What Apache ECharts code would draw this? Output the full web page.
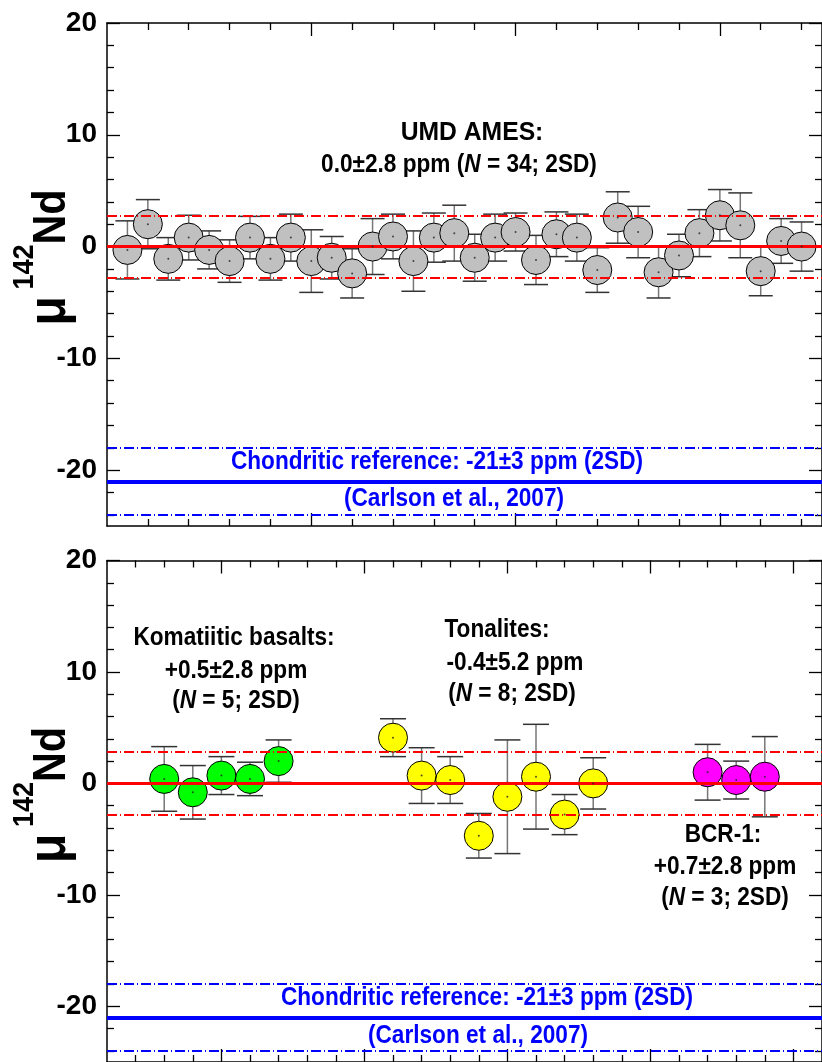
<!DOCTYPE html>
<html lang="en">
<head>
<meta charset="UTF-8">
<title>142Nd</title>
<script src="https://cdn.jsdelivr.net/npm/echarts@6/dist/echarts.min.js"></script>
<style>html,body{margin:0;padding:0;background:#fff;}</style>
</head>
<body>
<div id="main" style="width:822px;height:1062px;"></div>
<script type="text/javascript">
    // top panel: UMD AMES standard runs
    var amesNo  = [1,2,3,4,5,6,7,8,9,10,11,12,13,14,15,16,17,18,19,20,21,22,23,24,25,26,27,28,29,30,31,32,33,34];
    var amesVal = [-0.3,2.0,-1.1,0.8,-0.3,-1.3,0.8,-1.1,0.8,-1.3,-1.0,-2.4,0.0,0.9,-1.3,0.8,1.2,-1.0,0.8,1.3,-1.2,1.1,0.8,-2.1,2.6,1.3,-2.3,-0.8,1.2,2.8,1.9,-2.2,0.5,0.0];
    var amesErr = [2.6,2.2,1.9,2.0,1.7,1.9,1.9,1.9,2.1,2.8,1.9,2.2,2.5,2.0,2.7,2.2,2.5,2.1,2.1,1.7,2.2,2.0,2.1,2.0,2.3,2.3,2.3,1.9,2.1,2.3,2.9,2.2,2.0,2.2];

    // bottom panel: samples
    var komNo  = [3,4,5,6,7];
    var komVal = [0.4,-0.8,0.7,0.4,2.0];
    var komErr = [2.9,2.4,1.7,1.5,1.9];
    var tonNo  = [11,12,13,14,15,16,17,18];
    var tonVal = [4.1,0.7,0.3,-4.7,-1.2,0.6,-2.8,0.0];
    var tonErr = [1.7,2.5,2.1,2.0,5.1,4.7,1.8,2.3];
    var bcrNo  = [22,23,24];
    var bcrVal = [1.0,0.3,0.6];
    var bcrErr = [2.5,1.7,3.6];

    // reference lines (ppm)
    var terrLines = [0, 2.8, -2.8];
    var chonLines = [-21, -18, -24];

    // tick positions
    var yMajor = [-20, -10, 0, 10, 20];
    var yMinor = [-24,-22,-18,-16,-14,-12,-8,-6,-4,-2,2,4,6,8,12,14,16,18];
    var topXMajor = [10, 20, 30];
    var topXMinor = [2,4,6,8,12,14,16,18,22,24,26,28,32,34];
    var botXMajor = [5, 10, 15, 20, 25];
    var botXMinor = [2,3,4,6,7,8,9,11,12,13,14,16,17,18,19,21,22,23,24];

    var FONT = "'Liberation Sans', Arial, sans-serif";
    var NARROW = 0.87;

    var myChart = echarts.init(document.getElementById('main'));

    function zip(xs, ys, es) {
        var out = [];
        for (var i = 0; i < xs.length; i++) out.push([xs[i], ys[i], es[i]]);
        return out;
    }

    function axBase(grid, pos, min, max, ticks, len, line) {
        return {
            type: 'value', gridIndex: grid, position: pos, min: min, max: max,
            axisLine: {show: line, onZero: false, lineStyle: {color: '#000', width: 1.5}},
            axisTick: {show: true, inside: true, length: len, customValues: ticks, lineStyle: {color: '#000', width: 1.3}},
            axisLabel: {show: false},
            splitLine: {show: false}
        };
    }

    function xAxes(grid, min, max, major, minor) {
        return [
            axBase(grid, 'bottom', min, max, major, 13, true),
            axBase(grid, 'bottom', min, max, minor, 7, false),
            axBase(grid, 'top', min, max, major, 13, true),
            axBase(grid, 'top', min, max, minor, 7, false)
        ];
    }

    function yAxes(grid) {
        var left = axBase(grid, 'left', -25, 20, yMajor, 13, true);
        left.axisLabel = {
            show: true, customValues: yMajor, margin: 10, color: '#000',
            fontFamily: FONT, fontWeight: 'bold', fontSize: 28
        };
        return [
            left,
            axBase(grid, 'left', -25, 20, yMinor, 7, false),
            axBase(grid, 'right', -25, 20, yMajor, 13, true),
            axBase(grid, 'right', -25, 20, yMinor, 7, false)
        ];
    }

    function errorBar(half) {
        return function (params, api) {
            var x = api.value(0), y = api.value(1), e = api.value(2);
            var hi = api.coord([x, y + e]);
            var lo = api.coord([x, y - e]);
            return {
                type: 'group',
                children: [
                    {type: 'line', shape: {x1: hi[0], y1: hi[1], x2: lo[0], y2: lo[1]}, style: {stroke: '#777', lineWidth: 1.5}},
                    {type: 'line', shape: {x1: hi[0] - half, y1: hi[1], x2: hi[0] + half, y2: hi[1]}, style: {stroke: '#333', lineWidth: 1.5}},
                    {type: 'line', shape: {x1: lo[0] - half, y1: lo[1], x2: lo[0] + half, y2: lo[1]}, style: {stroke: '#333', lineWidth: 1.5}}
                ]
            };
        };
    }

    var DASH = [10, 3, 1, 3];
    function refLines() {
        return {
            silent: true, symbol: 'none', label: {show: false},
            data: [
                {yAxis: terrLines[0], lineStyle: {color: '#ff0000', width: 3, type: 'solid'}},
                {yAxis: terrLines[1], lineStyle: {color: '#ff0000', width: 2.2, type: DASH}},
                {yAxis: terrLines[2], lineStyle: {color: '#ff0000', width: 2.2, type: DASH}},
                {yAxis: chonLines[0], lineStyle: {color: '#0000ff', width: 4, type: 'solid'}},
                {yAxis: chonLines[1], lineStyle: {color: '#0000ff', width: 2, type: DASH}},
                {yAxis: chonLines[2], lineStyle: {color: '#0000ff', width: 2, type: DASH}}
            ]
        };
    }

    function pts(xi, yi, data, color) {
        return {
            type: 'scatter', xAxisIndex: xi, yAxisIndex: yi, z: 4,
            data: data, symbolSize: 29,
            itemStyle: {color: color, borderColor: '#000', borderWidth: 1, opacity: 1}
        };
    }
    function dots(xi, yi, data) {
        return {
            type: 'scatter', xAxisIndex: xi, yAxisIndex: yi, z: 5, silent: true,
            data: data, symbolSize: 2, itemStyle: {color: '#222'}
        };
    }

    function txt(x, y, text, color, sx) {
        var size = 26;
        var st = {fill: color, fontFamily: FONT, fontWeight: 'bold', fontSize: size};
        var sti = {fill: color, fontFamily: FONT, fontWeight: 'bold', fontStyle: 'italic', fontSize: size};
        return {
            type: 'text', x: x, y: y, scaleX: sx || NARROW, z: 10, silent: true,
            style: {text: text, fill: color, fontFamily: FONT, fontWeight: 'bold', fontSize: size,
                    align: 'center', verticalAlign: 'middle', rich: {n: st, i: sti}}
        };
    }

    // rotated axis title: mu, superscript 142, Nd
    function vtxt(x, y, text, size) {
        return {
            type: 'text', x: x, y: y, rotation: Math.PI / 2, scaleX: 0.9, z: 10, silent: true,
            style: {text: text, fill: '#000', fontFamily: FONT, fontWeight: 'bold', fontSize: size,
                    align: 'center', verticalAlign: 'middle'}
        };
    }
    function muLabel(dy) {
        return [
            vtxt(52, 217 + dy, 'Nd', 46),
            vtxt(25, 267 + dy, '142', 30),
            vtxt(50, 311 + dy, '\u03bc', 54)
        ];
    }

    var amesData = zip(amesNo, amesVal, amesErr);
    var komData = zip(komNo, komVal, komErr);
    var tonData = zip(tonNo, tonVal, tonErr);
    var bcrData = zip(bcrNo, bcrVal, bcrErr);

    var option = {
        animation: false,
        backgroundColor: '#fff',
        grid: [
            {left: 107, top: 23, width: 719, height: 503},
            {left: 107, top: 560.5, width: 719, height: 503}
        ],
        // x: 0-3 top panel, 4-7 bottom panel; y: 0-3 top panel, 4-7 bottom panel
        xAxis: xAxes(0, 0, 35, topXMajor, topXMinor).concat(xAxes(1, 1, 26, botXMajor, botXMinor)),
        yAxis: yAxes(0).concat(yAxes(1)),
        graphic: muLabel(0).concat(muLabel(537.5), [
            txt(472, 133, 'UMD AMES:', '#000', 0.95),
            txt(459, 165, '{n|0.0\u00b12.8 ppm (}{i|N}{n| = 34; 2SD)}', '#000'),
            txt(437, 462, 'Chondritic reference: -21\u00b13 ppm (2SD)', '#0000ff'),
            txt(454, 499, '(Carlson et al., 2007)', '#0000ff'),
            txt(234, 638, 'Komatiitic basalts:', '#000'),
            txt(236, 671, '+0.5\u00b12.8 ppm', '#000'),
            txt(236, 701, '{n|(}{i|N}{n| = 5; 2SD)}', '#000'),
            txt(497, 630, 'Tonalites:', '#000'),
            txt(515, 663, '-0.4\u00b15.2 ppm', '#000'),
            txt(512, 694, '{n|(}{i|N}{n| = 8; 2SD)}', '#000'),
            txt(723, 835, 'BCR-1:', '#000'),
            txt(725, 867, '+0.7\u00b12.8 ppm', '#000'),
            txt(725, 898, '{n|(}{i|N}{n| = 3; 2SD)}', '#000'),
            txt(487, 998, 'Chondritic reference: -21\u00b13 ppm (2SD)', '#0000ff'),
            txt(478, 1036, '(Carlson et al., 2007)', '#0000ff')
        ]),
        series: [
            {type: 'line', xAxisIndex: 0, yAxisIndex: 0, data: [], z: 1, markLine: refLines()},
            {type: 'custom', xAxisIndex: 0, yAxisIndex: 0, z: 3, silent: true, data: amesData, renderItem: errorBar(12)},
            pts(0, 0, amesData, '#c0c0c0'),
            dots(0, 0, amesData),

            {type: 'line', xAxisIndex: 4, yAxisIndex: 4, data: [], z: 1, markLine: refLines()},
            {type: 'custom', xAxisIndex: 4, yAxisIndex: 4, z: 3, silent: true, data: komData.concat(tonData, bcrData), renderItem: errorBar(13)},
            pts(4, 4, komData, '#00ff00'),
            pts(4, 4, tonData, '#ffff00'),
            pts(4, 4, bcrData, '#ff00ff'),
            dots(4, 4, komData.concat(tonData, bcrData))
        ]
    };

    myChart.setOption(option);
</script>
</body>
</html>
